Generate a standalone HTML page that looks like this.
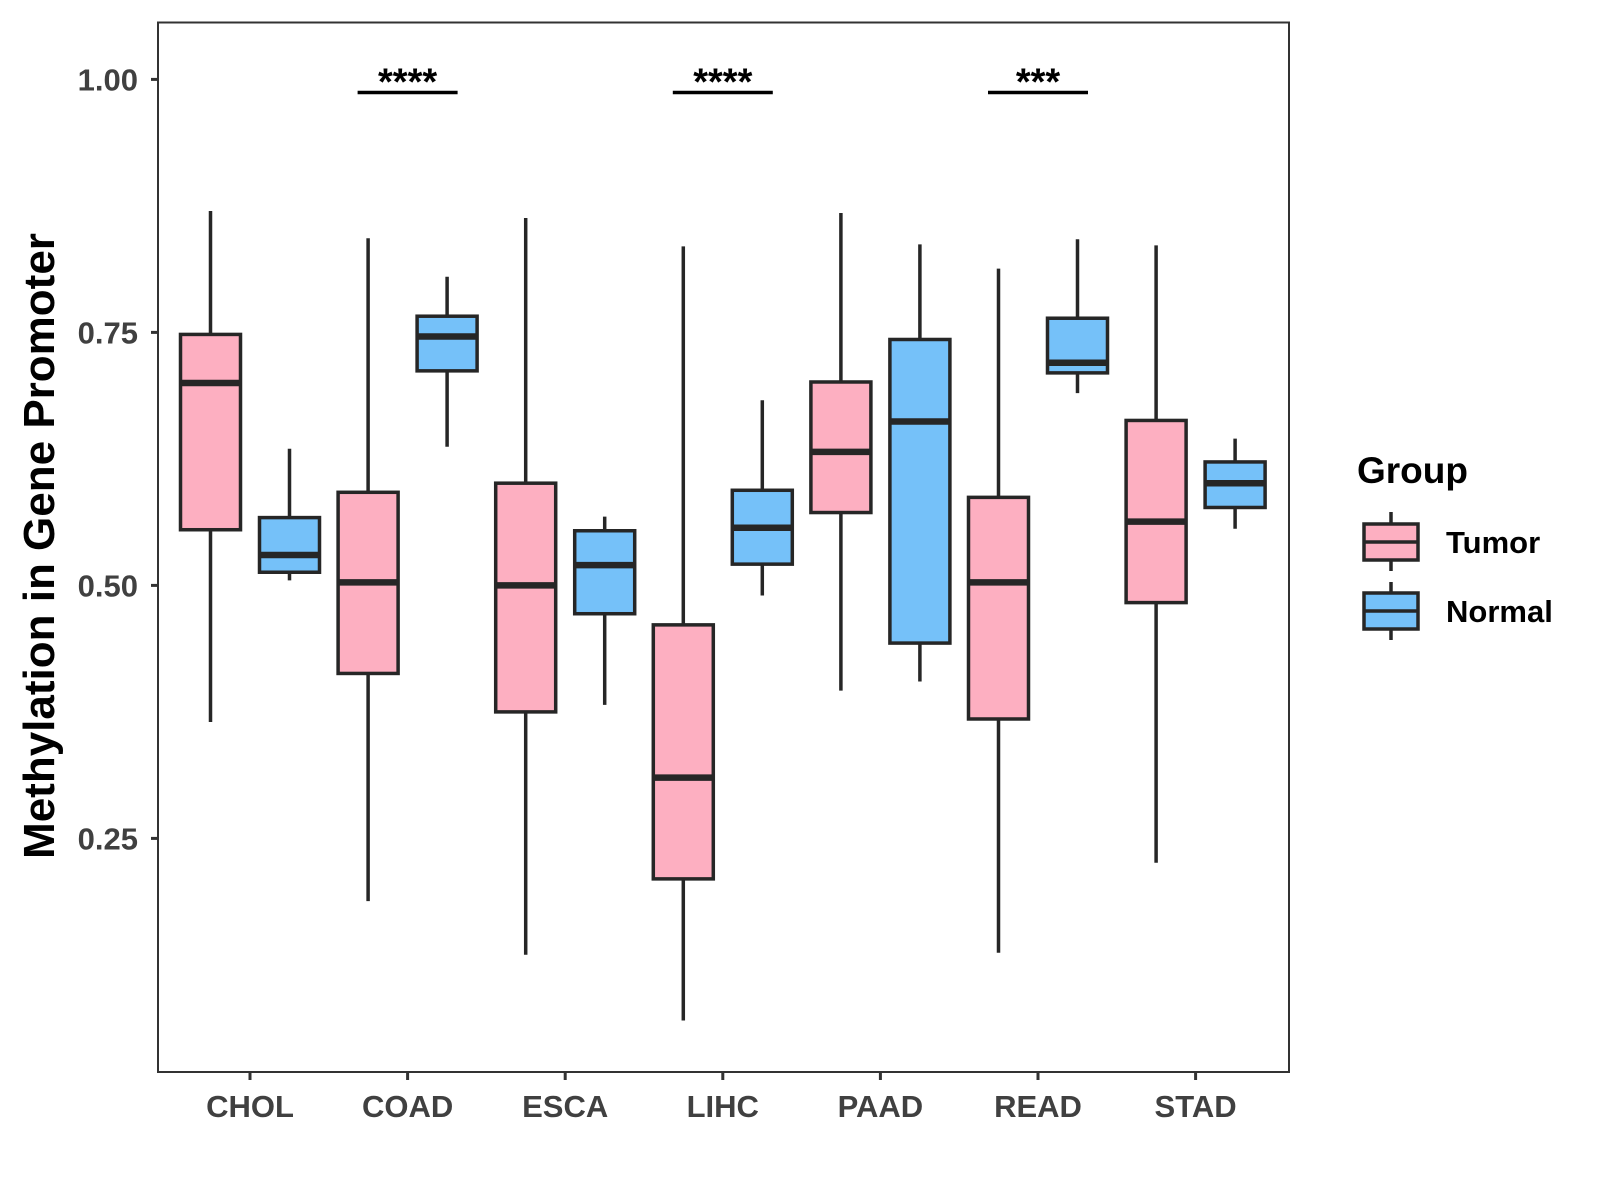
<!DOCTYPE html>
<html><head><meta charset="utf-8"><style>
html,body{margin:0;padding:0;background:#fff;}
svg{display:block;font-family:"Liberation Sans",Arial,sans-serif;}
</style></head><body>
<svg id="chart" width="1600" height="1200" viewBox="0 0 1600 1200">
<rect x="0" y="0" width="1600" height="1200" fill="#fff"/>
<rect x="158" y="22.5" width="1131" height="1049.5" fill="none" stroke="#333" stroke-width="2"/>
<g id="marks"></g>
<text transform="translate(54,546) rotate(-90)" text-anchor="middle" font-size="44" font-weight="bold" fill="#000">Methylation in Gene Promoter</text>
<g>
<text x="1357" y="483" font-size="37" font-weight="bold" fill="#000">Group</text>
<g>
<line x1="1391" y1="512" x2="1391" y2="571" stroke="#262626" stroke-width="3.5"/>
<rect x="1364" y="524" width="54" height="36" fill="#FDAFC1" stroke="#262626" stroke-width="3.5"/>
<line x1="1364" y1="542" x2="1418" y2="542" stroke="#262626" stroke-width="3.5"/>
<text x="1446" y="553" font-size="31" font-weight="bold" fill="#000">Tumor</text>
</g>
<g>
<line x1="1391" y1="582" x2="1391" y2="640" stroke="#262626" stroke-width="3.5"/>
<rect x="1364" y="593" width="54" height="36" fill="#75C1F9" stroke="#262626" stroke-width="3.5"/>
<line x1="1364" y1="611" x2="1418" y2="611" stroke="#262626" stroke-width="3.5"/>
<text x="1446" y="622" font-size="31" font-weight="bold" fill="#000">Normal</text>
</g>
</g>
</svg>
<script>
const categories = ["CHOL","COAD","ESCA","LIHC","PAAD","READ","STAD"];
const tumorMin = [0.365,0.188,0.135,0.070,0.396,0.137,0.226];
const tumorQ1 = [0.555,0.413,0.375,0.210,0.572,0.368,0.483];
const tumorMed = [0.700,0.503,0.500,0.310,0.632,0.503,0.563];
const tumorQ3 = [0.748,0.592,0.601,0.461,0.701,0.587,0.663];
const tumorMax = [0.870,0.843,0.863,0.835,0.868,0.813,0.836];
const normalMin = [0.505,0.637,0.382,0.490,0.405,0.690,0.556];
const normalQ1 = [0.513,0.712,0.472,0.521,0.443,0.710,0.577];
const normalMed = [0.530,0.746,0.520,0.557,0.662,0.720,0.601];
const normalQ3 = [0.567,0.766,0.554,0.594,0.743,0.764,0.622];
const normalMax = [0.635,0.805,0.568,0.683,0.837,0.842,0.645];
const yTicks = [0.25,0.50,0.75,1.00];
const yTickLabels = ["0.25","0.50","0.75","1.00"];
const sigCats = ["COAD","LIHC","READ"];
const sigLabels = ["****","****","***"];
const sigLevel = [0.987,0.987,0.987];

const NS="http://www.w3.org/2000/svg";
const g=document.getElementById('marks');
function yS(v){return 838.4+(0.25-v)*1012;}
function xS(i){return 250+i*157.6;}
function mk(t,a,p){const e=document.createElementNS(NS,t);for(const k in a)e.setAttribute(k,a[k]);(p||g).appendChild(e);return e;}

yTicks.forEach((v,i)=>{
  const t=mk('line',{x1:151,x2:158,y1:yS(v),y2:yS(v),stroke:'#333','stroke-width':3});
  
  
  const l=mk('text',{x:138,y:yS(v)+11,'text-anchor':'end','font-size':31,'font-weight':'bold',fill:'#404040'});
  l.textContent=yTickLabels[i];
  
  
});
categories.forEach((c,i)=>{
  const t=mk('line',{x1:xS(i),x2:xS(i),y1:1072,y2:1080,stroke:'#333','stroke-width':3});
  
  
  const l=mk('text',{x:xS(i),y:1117,'text-anchor':'middle','font-size':31,'font-weight':'bold',fill:'#404040'});
  l.textContent=c;
  
  
});
function box(cx,mn,q1,md,q3,mx,fill,name){
  const grp=mk('g',{});
  
  
  mk('line',{x1:cx,x2:cx,y1:yS(mx),y2:yS(mn),stroke:'#262626','stroke-width':3.5},grp);
  mk('rect',{x:cx-30,y:yS(q3),width:60,height:yS(q1)-yS(q3),fill:fill,stroke:'#262626','stroke-width':3.5},grp);
  mk('line',{x1:cx-30,x2:cx+30,y1:yS(md),y2:yS(md),stroke:'#262626','stroke-width':6.5},grp);
}
categories.forEach((c,i)=>{
  box(xS(i)-39.5,tumorMin[i],tumorQ1[i],tumorMed[i],tumorQ3[i],tumorMax[i],'#FDAFC1','box-tumor-'+c.toLowerCase());
  box(xS(i)+39.5,normalMin[i],normalQ1[i],normalMed[i],normalQ3[i],normalMax[i],'#75C1F9','box-normal-'+c.toLowerCase());
});
sigCats.forEach((c,k)=>{
  const i=categories.indexOf(c);
  const y=yS(sigLevel[k]);
  const b=mk('line',{x1:xS(i)-50,x2:xS(i)+50,y1:y,y2:y,stroke:'#000','stroke-width':3.5});
  
  
  const t=mk('text',{x:xS(i),y:y+2,'text-anchor':'middle','font-size':38,'font-weight':'bold',fill:'#000'});
  t.textContent=sigLabels[k];
  
  
});
</script>
</body></html>
